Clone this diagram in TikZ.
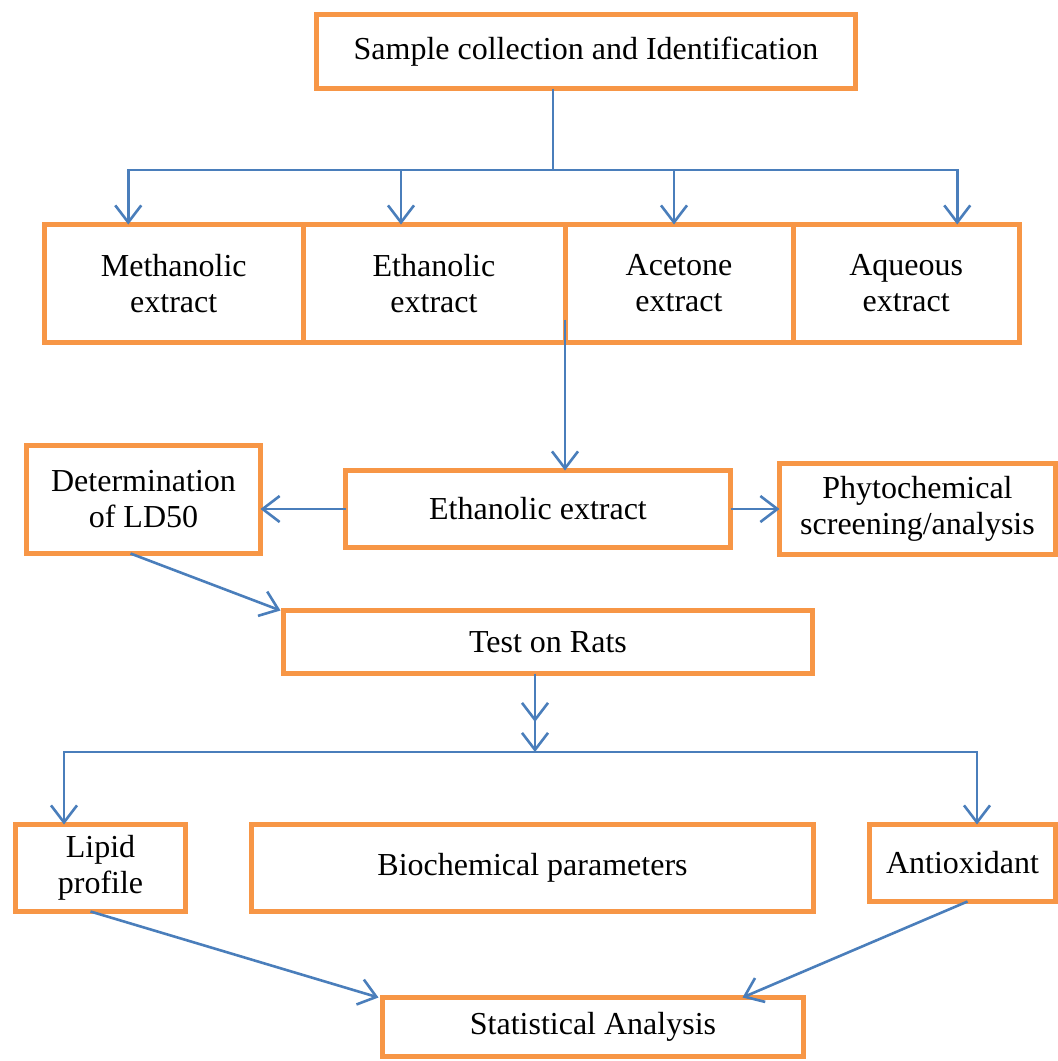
\documentclass[tikz,border=0pt]{standalone}
\usepackage{fontspec}
\setmainfont{Liberation Serif}
\usepackage{tikz}
\usetikzlibrary{arrows.meta,positioning,calc}
\definecolor{boxorange}{HTML}{F79646}
\definecolor{flowblue}{HTML}{4A7EBB}

\begin{document}
\begin{tikzpicture}[
    x=0.5pt, y=-0.5pt,
    block/.style={rectangle, draw=boxorange, line width=2.5pt, fill=white,
                  align=center, inner sep=0pt, outer sep=0pt,
                  font=\fontsize{16}{18}\selectfont},
    arrow/.style={-{Straight Barb[length=8.5pt,width=13pt]}, color=flowblue, line width=1.3pt},
    line/.style={color=flowblue, line width=0.7pt},
]
\useasboundingbox (0,0) rectangle (1057,1061);

\node[block, minimum width=269.5pt, minimum height=37pt] (sample) at (586,51.5) {Sample collection and Identification};

% extracts
\node[block, minimum width=129.25pt, minimum height=59pt] (meth) at (173.75,283.5) {Methanolic\\extract};
\node[block, minimum width=131pt, minimum height=59pt, right=0pt of meth] (etha) {Ethanolic\\extract};
\node[block, minimum width=114pt, minimum height=59pt, right=0pt of etha] (acet) {Acetone\\extract};
\node[block, minimum width=113.25pt, minimum height=59pt, right=0pt of acet] (aque) {Aqueous\\extract};

\coordinate (hub) at (553,170);
\draw[line] (sample.south -| hub) -- (hub);
\draw[arrow] (hub) -| ([xshift=-22.75pt]meth.north);
\draw[arrow] (hub) -| ([xshift=-16.5pt]etha.north);
\draw[arrow] (hub) -| ([xshift=-2.5pt]acet.north);
\draw[arrow] (hub) -| ([xshift=25.5pt]aque.north);

% ethanolic extract
\node[block, minimum width=192.5pt, minimum height=38.5pt] (mid) at (538,509) {Ethanolic extract};
\node[block, minimum width=117pt, minimum height=54pt] (det) at (143.5,499.5) {Determination\\of LD50};
\node[block, minimum width=138pt, minimum height=45.5pt] (phyto) at (917.5,509) {Phytochemical\\screening/analysis};

\draw[arrow] ([yshift=11.5pt]etha.south east) -- (mid.north -| etha.south east);
\draw[arrow] (mid.west) -- (mid.west -| det.east);
\draw[arrow] (mid.east) -- (mid.east -| phyto.west);

\node[block, minimum width=264.5pt, minimum height=31.5pt] (rats) at (548,642) {Test on Rats};
\draw[arrow] ([xshift=-6.5pt]det.south) -- ([xshift=-1.5pt]rats.north west);

% tests
\node[block, minimum width=85pt, minimum height=43.5pt] (lipid) at (100.5,868) {Lipid\\profile};
\node[block, minimum width=281pt, minimum height=43.5pt] (bio) at (532.5,868) {Biochemical parameters};
\node[block, minimum width=93pt, minimum height=38.5pt] (anti) at (962.5,863) {Antioxidant};

\coordinate (fork) at (535,752);
\draw[arrow] (rats.south -| fork) -- ([yshift=15pt]fork);
\draw[arrow] (rats.south -| fork) -- (fork);
\draw[arrow] (fork) -| ([xshift=-18.25pt]lipid.north);
\draw[arrow] (fork) -| ([xshift=7.25pt]anti.north);

\node[block, minimum width=210.5pt, minimum height=29.5pt] (stat) at (593,1027) {Statistical Analysis};
\draw[arrow] ([xshift=-5pt]lipid.south) -- ([xshift=-2pt]stat.north west);
\draw[arrow] ([xshift=2.5pt]anti.south) -- ([xshift=-30.5pt]stat.north east);
\end{tikzpicture}
\end{document}
